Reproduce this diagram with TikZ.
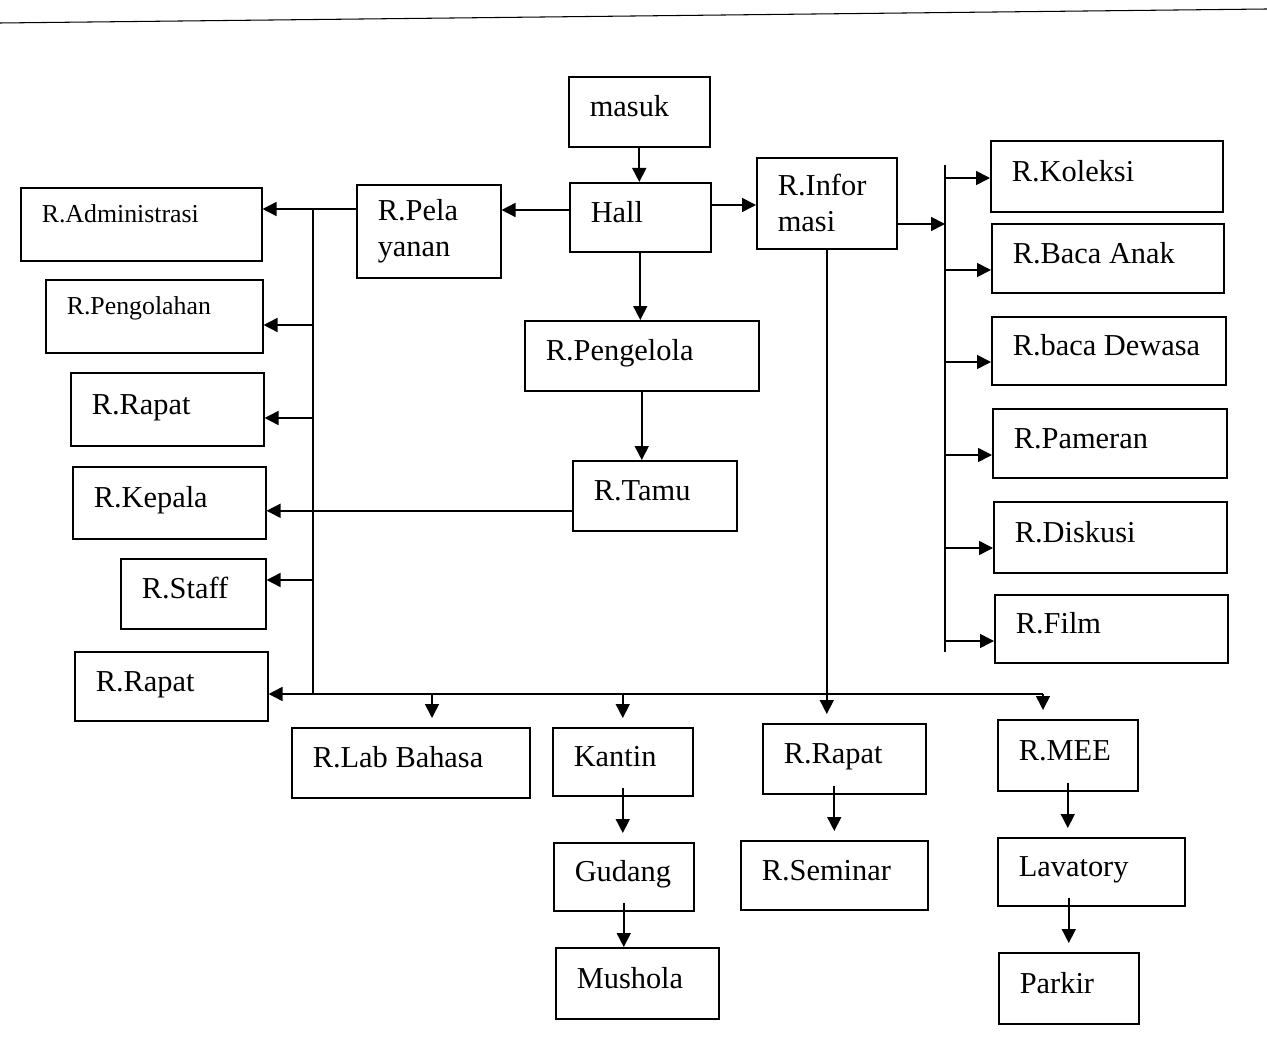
\documentclass[tikz,border=0pt]{standalone}
\usepackage{fontspec}
\setmainfont{Liberation Serif}
\usetikzlibrary{arrows.meta}

\begin{document}
\begin{tikzpicture}[x=0.02cm,y=-0.02cm,
	room/.style={draw,line width=0.9pt,anchor=north west,inner xsep=0.42cm,inner ysep=0pt,
		align=flush left,font=\fontsize{17.3}{20.5}\selectfont,text height=10.7pt,text depth=5.2pt},
	smallroom/.style={room,font=\fontsize{14.7}{17.5}\selectfont,text height=5pt,text depth=7.5pt},
	tworow/.style={room,text height={},text depth={}},
	arr/.style={line width=0.9pt,-{Triangle[length=0.28cm,width=0.28cm]}},
	gap/.style={arr,shorten >=0.18cm,shorten <=-0.18cm}]
	\useasboundingbox (0,0) rectangle (1267,1050);
	\draw [line width=0.6pt] (0,23) -- (1267,9);
	% tengah
	\node[room,text width=1.98cm,minimum height=1.40cm] (masuk) at (568,76) {masuk};
	\node[room,text width=1.98cm,minimum height=1.38cm] (hall) at (569,182) {Hall};
	\node[tworow,text width=2.04cm,minimum height=1.86cm] (pel) at (356,184) {R.Pela\\yanan};
	\node[tworow,text width=1.96cm,minimum height=1.82cm] (info) at (756,157) {R.Infor\\masi};
	\node[room,text width=3.84cm,minimum height=1.40cm] (peng) at (524,320) {R.Pengelola};
	\node[room,text width=2.44cm,minimum height=1.40cm] (tamu) at (572,460) {R.Tamu};
	% kiri
	\node[smallroom,text width=3.98cm,minimum height=1.46cm] (adm) at (20,187) {R.Administrasi};
	\node[smallroom,text width=3.50cm,minimum height=1.46cm] (olah) at (45,279) {R.Pengolahan};
	\node[room,text width=3.02cm,minimum height=1.46cm] (rapat1) at (70,372) {R.Rapat};
	\node[room,text width=3.02cm,minimum height=1.44cm] (kepala) at (72,466) {R.Kepala};
	\node[room,text width=2.06cm,minimum height=1.40cm] (staff) at (120,558) {R.Staff};
	\node[room,text width=3.02cm,minimum height=1.38cm] (rapat2) at (74,651) {R.Rapat};
	% bawah
	\node[room,text width=3.92cm,minimum height=1.40cm] (lab) at (291,727) {R.Lab Bahasa};
	\node[room,text width=1.96cm,minimum height=1.36cm] (kantin) at (552,727) {Kantin};
	\node[room,text width=1.96cm,minimum height=1.36cm] (gudang) at (553,842) {Gudang};
	\node[room,text width=2.42cm,minimum height=1.42cm] (mushola) at (555,947) {Mushola};
	\node[room,text width=2.42cm,minimum height=1.40cm] (rapat3) at (762,723) {R.Rapat};
	\node[room,text width=2.90cm,minimum height=1.38cm] (seminar) at (740,840) {R.Seminar};
	\node[room,text width=1.96cm,minimum height=1.42cm] (mee) at (997,719) {R.MEE};
	\node[room,text width=2.90cm,minimum height=1.36cm] (lava) at (997,837) {Lavatory};
	\node[room,text width=1.96cm,minimum height=1.42cm] (parkir) at (998,952) {Parkir};
	% kanan
	\node[room,text width=3.80cm,minimum height=1.42cm] (koleksi) at (990,140) {R.Koleksi};
	\node[room,text width=3.80cm,minimum height=1.38cm] (anak) at (991,223) {R.Baca Anak};
	\node[room,text width=3.84cm,minimum height=1.36cm] (dewasa) at (991,316) {R.baca Dewasa};
	\node[room,text width=3.84cm,minimum height=1.38cm] (pameran) at (992,408) {R.Pameran};
	\node[room,text width=3.82cm,minimum height=1.42cm] (diskusi) at (993,501) {R.Diskusi};
	\node[room,text width=3.82cm,minimum height=1.36cm] (film) at (994,594) {R.Film};

	\coordinate (ltop) at (313,209);
	\coordinate (lbot) at (313,694);
	\coordinate (bend) at (1043,694);
	\coordinate (jlab) at (432,694);
	\coordinate (rtop) at (945,165);
	\coordinate (rbot) at (945,652);
	\coordinate (rin) at (945,224);
	\coordinate (tk) at ([yshift=-0.3cm]tamu.west);

	\draw[arr] (masuk.south) -- (masuk.south |- hall.north);
	\draw[arr] (hall.west |- 0,210) -- (pel.east |- 0,210);
	\draw[arr] (hall.east |- 0,205) -- (info.west |- 0,205);
	\draw[arr] (hall.south) -- (hall.south |- peng.north);
	\draw[arr] (peng.south) -- (peng.south |- tamu.north);
	\draw[arr] (tk) -- (kepala.east |- tk);
	\draw[arr] (pel.west |- ltop) -- (adm.east |- ltop);
	\draw[line width=0.9pt] (ltop) -- (lbot) -- (bend);
	\foreach \b/\y in {olah/325,rapat1/418,staff/580}
	{
		\coordinate (j\b) at (313,\y);
		\draw[arr] (j\b) -- (\b.east |- j\b);
	}
	\draw[arr] (lbot) -- (rapat2.east |- lbot);
	\draw[gap,shorten <=0pt] (jlab) -- (jlab |- lab.north);
	\draw[gap,shorten <=0pt] (kantin.north |- lbot) -- (kantin.north);
	\draw[gap,shorten <=0pt] (bend) -- (bend |- mee.north);
	\draw[gap,shorten <=0pt] (info.south) -- (info.south |- rapat3.north);
	\draw[gap] (kantin.south) -- (kantin.south |- gudang.north);
	\draw[arr,shorten <=-0.18cm] (gudang.south) -- (gudang.south |- mushola.north);
	\draw[gap] (seminar.north |- rapat3.south) -- (seminar.north);
	\draw[gap] (mee.south) -- (mee.south |- lava.north);
	\draw[gap] (parkir.north |- lava.south) -- (parkir.north);
	\draw[arr] (info.east |- rin) -- (rin);
	\draw[line width=0.9pt] (rtop) -- (rbot);
	\foreach \b/\y in {koleksi/178,anak/270,dewasa/362,pameran/455,diskusi/548,film/641}
	{
		\coordinate (j\b) at (945,\y);
		\draw[arr] (j\b) -- (\b.west |- j\b);
	}
\end{tikzpicture}
\end{document}
